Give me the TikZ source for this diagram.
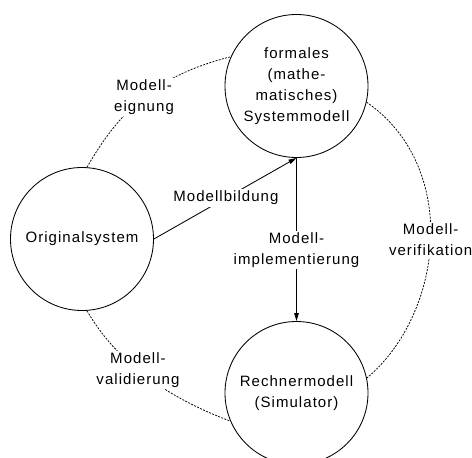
\documentclass[tikz,border=0pt]{standalone}
\usepackage{fontspec}
\setmainfont{Liberation Sans}[LetterSpace=7]
\usetikzlibrary{arrows.meta}
\begin{document}
\begin{tikzpicture}[x=1pt,y=-1pt,
  every node/.style={font=\fontsize{15}{20.8}\selectfont, align=center},
  stage/.style={circle, draw, line width=0.85pt, minimum size=143pt, inner sep=0pt},
  flow/.style={line width=0.85pt, -{Triangle[length=8pt,width=4.6pt]}},
  relation/.style={line width=0.75pt, dash pattern=on 2pt off 1.3pt},
  tag/.style={fill=white, inner sep=2pt}]
\useasboundingbox (0,0) rectangle (472,458);

% the three models
\node[stage] (T) at (296.5,86) {formales\\(mathe-\\matisches)\\Systemmodell};
\node[stage] (O) at (82,239) {Originalsystem};
\node[stage] (R) at (296.5,393) {Rechnermodell\\(Simulator)};

% transformations between the models
\draw[flow] (O.east) -- node[tag, pos=0.505] {Modellbildung} (T.south);
\draw[flow] (T.south) -- node[tag, pos=0.564] {Modell-\\implementierung} (R.north);

% checks between the models
\draw[relation] (O.86) .. controls (120.5,108.9) and (157.7,75.1) .. node[tag] {Modell-\\eignung} (T.156);
\draw[relation] (O.-86) .. controls (110,350.8) and (152.2,391.8) .. node[tag] {Modell-\\validierung} (R.203);
\draw[relation] (T.-13) .. controls (460,166.5) and (444,313.2) .. node[tag] {Modell-\\verifikation} (R.12);
\end{tikzpicture}
\end{document}
